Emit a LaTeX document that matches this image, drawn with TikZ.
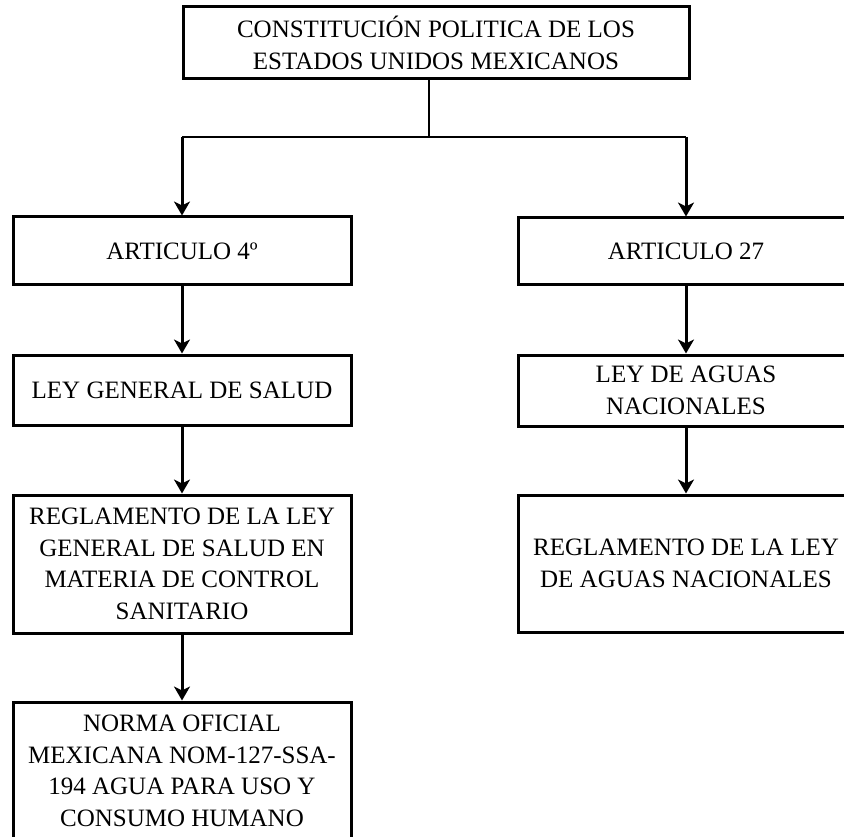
\documentclass[tikz,border=0pt]{standalone}
\usepackage{fontspec}
\setmainfont{Liberation Serif}
\usetikzlibrary{arrows.meta}

\begin{document}
\begin{tikzpicture}[x=1pt,y=-1pt,
    caja/.style={draw,line width=3pt,align=center,inner sep=0pt,
      minimum width=338,font=\fontsize{25}{31.5}\selectfont},
    flecha/.style={line width=3pt,-{Stealth[length=14pt,width=16pt,inset=4pt]}}]
  \useasboundingbox (0,0) rectangle (844,837);
  \node[caja,minimum width=506,minimum height=72] (cpeum) at (436,43)
    {CONSTITUCIÓN POLITICA DE LOS\\ESTADOS UNIDOS MEXICANOS};
  \node[caja,minimum height=68] (art4) at (182,251) {ARTICULO 4º};
  \node[caja,minimum width=336,minimum height=67] (art27) at (686,251.5) {ARTICULO 27};
  \node[caja,minimum height=70] (salud) at (182,390) {LEY GENERAL DE SALUD};
  \node[caja,minimum width=336,minimum height=71] (aguas) at (686,390.5) {LEY DE AGUAS\\NACIONALES};
  \node[caja,minimum height=138] (regsalud) at (182,564)
    {REGLAMENTO DE LA LEY\\GENERAL DE SALUD EN\\MATERIA DE CONTROL\\SANITARIO};
  \node[caja,minimum width=336,minimum height=137] (regaguas) at (686,563.5)
    {REGLAMENTO DE LA LEY\\DE AGUAS NACIONALES};
  \node[caja,minimum height=138] (norma) at (182,771)
    {NORMA OFICIAL\\MEXICANA NOM-127-SSA-\\194 AGUA PARA USO Y\\CONSUMO HUMANO};
  % reparto
  \coordinate (reparto) at (429,137);
  \draw[line width=1.4pt] (reparto |- cpeum.south) -- (reparto);
  \draw[line width=1.4pt] (reparto) -- (reparto -| art4) (reparto) -- (reparto -| art27);
  \draw[flecha] (reparto -| art4) -- (art4);
  \draw[flecha] (reparto -| art27) -- (art27);
  \draw[flecha] (art4) -- (salud);
  \draw[flecha] (salud) -- (regsalud);
  \draw[flecha] (regsalud) -- (norma);
  \draw[flecha] (art27) -- (aguas);
  \draw[flecha] (aguas) -- (regaguas);
\end{tikzpicture}
\end{document}
